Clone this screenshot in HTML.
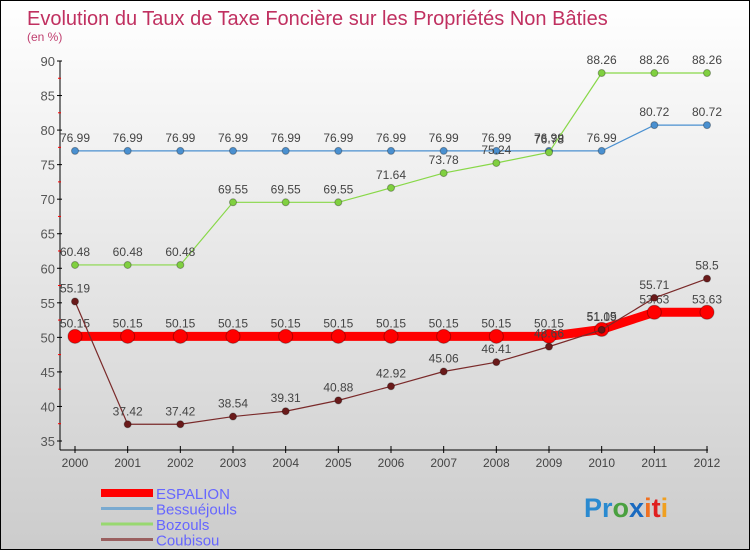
<!DOCTYPE html>
<html><head><meta charset="utf-8"><style>
body{margin:0}
#c{width:748px;height:548px;border:1px solid #000;background:linear-gradient(#fff,#ccc);position:relative;overflow:hidden;font-family:"Liberation Sans",sans-serif}
svg{position:absolute;left:0;top:0}
</style></head><body>
<div id="c">
<svg id="s" width="748" height="548">
<text x="26" y="24" font-size="20" fill="#c03060">Evolution du Taux de Taxe Foncière sur les Propriétés Non Bâties</text>
<text x="26" y="40" font-size="12" fill="#c04070">(en %)</text>
</svg>
</div>
<script>
const years=[2000,2001,2002,2003,2004,2005,2006,2007,2008,2009,2010,2011,2012];
const espalion=[50.15,50.15,50.15,50.15,50.15,50.15,50.15,50.15,50.15,50.15,51.15,53.63,53.63];
const bessuejouls=[76.99,76.99,76.99,76.99,76.99,76.99,76.99,76.99,76.99,76.99,76.99,80.72,80.72];
const bozouls=[60.48,60.48,60.48,69.55,69.55,69.55,71.64,73.78,75.24,76.78,88.26,88.26,88.26];
const coubisou=[55.19,37.42,37.42,38.54,39.31,40.88,42.92,45.06,46.41,48.66,51.09,55.71,58.5];
const yTicks=[35,40,45,50,55,60,65,70,75,80,85,90];
const series=[
 {name:'Bessuéjouls',v:bessuejouls,c:'#4a90d0',w:1.2,r:3.5,f:'#4a90d0'},
 {name:'Bozouls',v:bozouls,c:'#88d848',w:1.2,r:3.5,f:'#80d040'},
 {name:'ESPALION',v:espalion,c:'#ff0000',w:9,r:7,f:'#ff0000'},
 {name:'Coubisou',v:coubisou,c:'#7a2a2a',w:1.2,r:3.5,f:'#6a1a1a'}];
const X=i=>74+i*(706-74)/(years.length-1);
const Y=v=>60+(90-v)*(440-60)/55;
const s=document.getElementById('s');const NS='http://www.w3.org/2000/svg';
function mk(t,a,p){const e=document.createElementNS(NS,t);for(const k in a)e.setAttribute(k,a[k]);(p||s).appendChild(e);return e;}
let e=mk('line',{x1:59,y1:60,x2:59,y2:449,stroke:'#000'});

e=mk('line',{x1:59,y1:449,x2:707,y2:449,stroke:'#000'});

yTicks.forEach((t,i)=>{
 const y=Y(t);
 mk('line',{x1:56,y1:y,x2:61,y2:y,stroke:'#000'});
 if(i<yTicks.length-1)mk('line',{x1:57,y1:y-17.3,x2:60,y2:y-17.3,stroke:'#f00'});
 const tx=mk('text',{x:54,y:y+5,'font-size':13,fill:'#555','text-anchor':'end'});tx.textContent=t;
 
});
years.forEach((yr,i)=>{
 const x=X(i);
 mk('line',{x1:x,y1:445,x2:x,y2:452,stroke:'#000'});
 const tx=mk('text',{x:x,y:466,'font-size':12,fill:'#444','text-anchor':'middle'});tx.textContent=yr;
 
});
series.forEach(sr=>{
 const p=mk('polyline',{points:sr.v.map((v,i)=>X(i)+','+Y(v)).join(' '),fill:'none',stroke:sr.c,'stroke-width':sr.w});
 
 
 sr.v.forEach((v,i)=>{
  const c=mk('circle',{cx:X(i),cy:Y(v),r:sr.r,fill:sr.f,stroke:'rgba(0,0,0,0.3)'});
  
  
  const t=mk('text',{x:X(i),y:Y(v)-9,'font-size':12,fill:'#444','text-anchor':'middle'});t.textContent=v;
  
  
 });
});
const leg=[['ESPALION','#ff0000',8],['Bessuéjouls','#7aaad0',3],['Bozouls','#98d870',3],['Coubisou','#9a6060',3]];
leg.forEach((l,i)=>{
 const y=492+i*15.5;
 mk('line',{x1:100,y1:y,x2:152,y2:y,stroke:l[1],'stroke-width':l[2]});
 const t=mk('text',{x:155,y:y+6,'font-size':15,fill:'#6666ff'});t.textContent=l[0];
 
 
});
const lg=mk('text',{x:583,y:516,'font-size':27,'font-weight':'bold'});


[['Pr','#2a8ad0'],['o','#4aa040'],['x','#1a6ac0'],['i','#f07020'],['t','#e02020'],['i','#f0a020']].forEach(p=>{const ts=mk('tspan',{fill:p[1]},lg);ts.textContent=p[0];});
</script>
</body></html>
